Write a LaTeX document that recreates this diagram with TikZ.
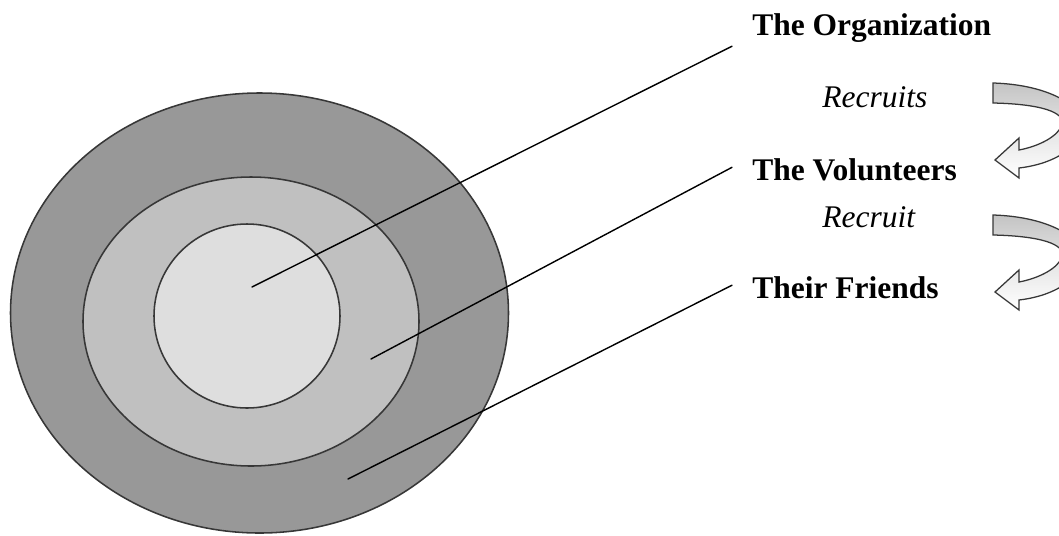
\documentclass[tikz,border=0pt]{standalone}
\usepackage{fontspec}
\setmainfont{Liberation Serif}
\usetikzlibrary{positioning,calc}
\definecolor{RingOuter}{RGB}{152,152,152}
\definecolor{RingMiddle}{RGB}{192,192,192}
\definecolor{RingInner}{RGB}{222,222,222}
\definecolor{ArrowGray}{RGB}{196,196,196}
\definecolor{EdgeGray}{RGB}{55,55,55}

\begin{document}
\begin{tikzpicture}[x=0.025cm, y=-0.025cm,
  every node/.style={font=\fontsize{22.4}{26}\selectfont, inner sep=0pt, anchor=base west},
  ring/.style={draw=EdgeGray, line width=1.1pt},
  leader/.style={line width=1pt, line cap=round},
  turnarrow/.style={draw=EdgeGray, line width=0.9pt, top color=ArrowGray, bottom color=white, middle color=white!55!ArrowGray}]
  \useasboundingbox (0,0) rectangle (1059,535);
  \clip (0,0) rectangle (1059,535);

  % the three circles
  \draw[ring, fill=RingOuter] (259.5,313) ellipse [x radius=249, y radius=220];
  \draw[ring, fill=RingMiddle] (251,321.5) ellipse [x radius=168, y radius=144.5];
  \draw[ring, fill=RingInner] (247,316) ellipse [x radius=93, y radius=92];

  \coordinate (orgpt) at (252,287);
  \coordinate (volpt) at (371,359);
  \coordinate (fript) at (348,479);

  % labels
  \node (org) at (752,35) {\textbf{The Organization}};
  \node (recruits) at (822,107) {\textit{Recruits}};
  \node (vol) at (752,180) {\textbf{The Volunteers}};
  \node (recruit) at (822,227) {\textit{Recruit}};
  \node (fri) at (752,298) {\textbf{Their Friends}};

  \draw[leader] (orgpt) -- ($(org.south west)+(-20,4)$);
  \draw[leader] (volpt) -- ($(vol.west)+(-20,-2)$);
  \draw[leader] (fript) -- ($(fri.west)+(-20,-2)$);

  % curved block arrows
  \foreach \dy in {0,132} {
    \begin{scope}[shift={(0,\dy)}]
      \draw[turnarrow] (993,83) .. controls (1060,85) and (1095,115) .. (1080,137)
        .. controls (1068,155) and (1045,165) .. (1019,168)
        -- (1019,178) -- (995,160) -- (1019,138) -- (1019,150)
        .. controls (1040,146) and (1058,136) .. (1062,125)
        .. controls (1066,112) and (1040,104) .. (993,103) -- cycle;
    \end{scope}
  }
\end{tikzpicture}
\end{document}
